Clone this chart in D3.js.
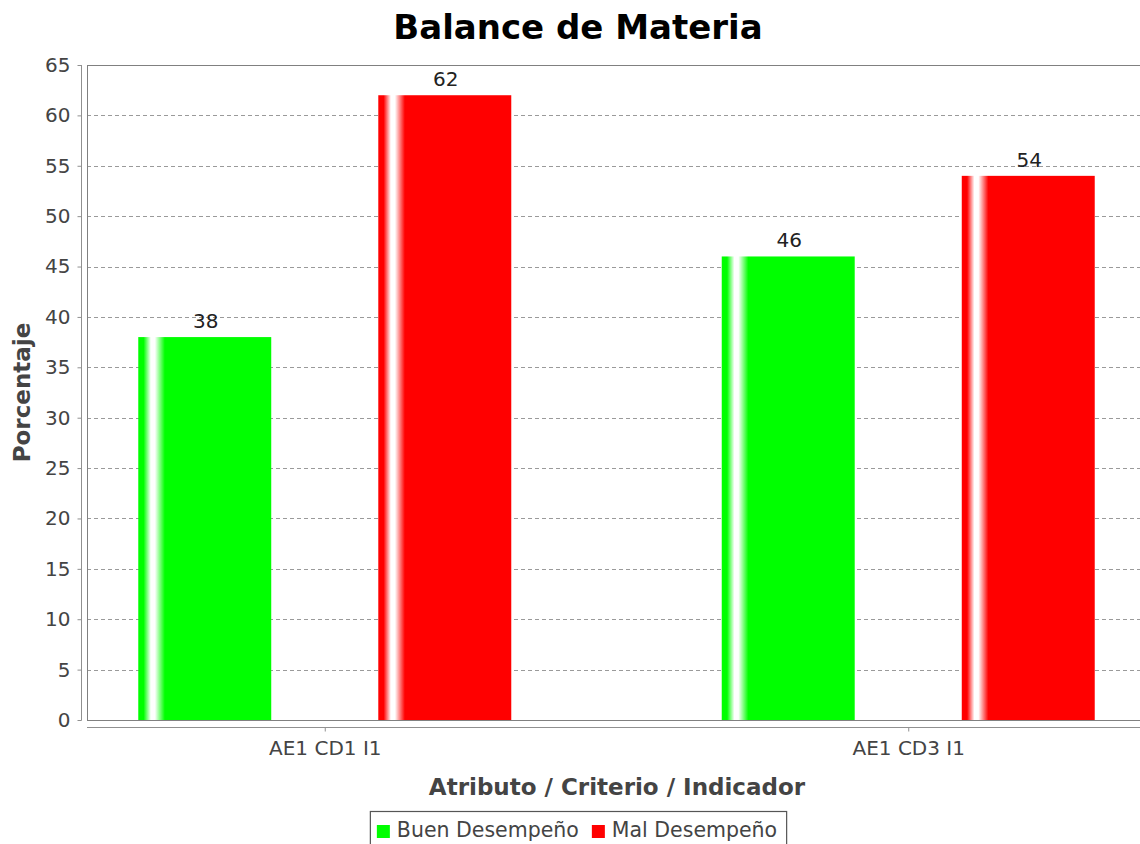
<!DOCTYPE html>
<html>
<head>
<meta charset="utf-8">
<script src="https://cdn.jsdelivr.net/npm/d3@7"></script>
<style>
  body { margin: 0; background: #fff; }
  text { font-family: "DejaVu Sans", sans-serif; }
</style>
</head>
<body>
<div id="chart"></div>
<script>
// chart data
var categories = ['AE1 CD1 I1', 'AE1 CD3 I1'];
var seriesNames = ['Buen Desempeño', 'Mal Desempeño'];
var seriesColors = ['#00ff00', '#ff0000'];
var buenValues = [38, 46];
var malValues = [62, 54];
var yTicks = [0, 5, 10, 15, 20, 25, 30, 35, 40, 45, 50, 55, 60, 65];

var width = 1140, height = 844;
var plot = { left: 87, top: 65, right: 1146, bottom: 720 }; // right edge is cropped off like the original

var svg = d3.select('#chart')
  .append('svg')
  .attr('width', width)
  .attr('height', height);

// gradient for each series (white highlight near the left edge)
var defs = svg.append('defs');
seriesColors.forEach(function(c, i) {
  var g = defs.append('linearGradient')
    .attr('id', 'grad' + i)
    .attr('x1', '0').attr('x2', '1').attr('y1', '0').attr('y2', '0');
  var stops = [[0, c], [0.04, c], [0.095, '#ffffff'], [0.125, '#ffffff'], [0.2, c], [1, c]];
  stops.forEach(function(s) {
    g.append('stop').attr('offset', s[0]).attr('stop-color', s[1]);
  });
});

var y = d3.scaleLinear().domain([0, 65]).range([plot.bottom, plot.top]);

var x0 = d3.scalePoint()
  .domain(categories)
  .range([plot.left, plot.right])
  .padding(0.4075);

var x1 = d3.scaleBand()
  .domain(seriesNames)
  .range([-186.5, 186.5])
  .paddingInner(0.446);

// gridlines
svg.append('g')
  .selectAll('line')
  .data(yTicks.filter(function(d) { return d > 0; }))
  .enter()
  .append('line')
  .attr('x1', plot.left).attr('x2', plot.right)
  .attr('y1', function(d) { return Math.round(y(d)) + 0.5; })
  .attr('y2', function(d) { return Math.round(y(d)) + 0.5; })
  .attr('stroke', '#9a9a9a')
  .attr('stroke-width', 1)
  .attr('stroke-dasharray', '4,3');

// plot outline
svg.append('rect')
  .attr('x', plot.left + 0.5).attr('y', plot.top + 0.5)
  .attr('width', plot.right - plot.left).attr('height', plot.bottom - plot.top)
  .attr('fill', 'none')
  .attr('stroke', '#808080');

// bars
var data = [];
categories.forEach(function(cat, i) {
  data.push({ cat: cat, series: seriesNames[0], value: buenValues[i], s: 0 });
  data.push({ cat: cat, series: seriesNames[1], value: malValues[i], s: 1 });
});

svg.append('g')
  .selectAll('rect')
  .data(data)
  .enter()
  .append('rect')
  .attr('x', function(d) { return x0(d.cat) + x1(d.series); })
  .attr('y', function(d) { return y(d.value); })
  .attr('width', x1.bandwidth())
  .attr('height', function(d) { return plot.bottom - y(d.value); })
  .attr('fill', function(d) { return 'url(#grad' + d.s + ')'; });

// value labels
svg.append('g')
  .selectAll('text')
  .data(data)
  .enter()
  .append('text')
  .attr('x', function(d) { return x0(d.cat) + x1(d.series) + x1.bandwidth() / 2 + 1; })
  .attr('y', function(d) { return y(d.value) - 9; })
  .attr('text-anchor', 'middle')
  .style('font-size', '20px')
  .style('fill', '#222')
  .text(function(d) { return d.value; });

// y axis (offset from plot)
var yAxis = d3.axisLeft(y).tickValues(yTicks).tickSize(4).tickPadding(7);
var yg = svg.append('g')
  .attr('transform', 'translate(81.5,0)')
  .call(yAxis);
yg.select('.domain').attr('stroke', '#909090').attr('d', 'M0,' + plot.top + 'V' + (plot.bottom + 0.5));
yg.selectAll('.tick line').attr('stroke', '#909090');
yg.selectAll('.tick text')
  .style('font-family', '"DejaVu Sans", sans-serif')
  .style('font-size', '20px')
  .style('fill', '#444');

// x axis (offset from plot)
var xAxis = d3.axisBottom(x0).tickSize(4).tickPadding(9);
var xg = svg.append('g')
  .attr('transform', 'translate(0,727.5)')
  .call(xAxis);
xg.select('.domain').attr('stroke', '#909090').attr('d', 'M' + plot.left + ',0H' + plot.right);
xg.selectAll('.tick line').attr('stroke', '#909090');
xg.selectAll('.tick text')
  .style('font-family', '"DejaVu Sans", sans-serif')
  .style('font-size', '20px')
  .style('fill', '#444');

// title
svg.append('text')
  .attr('x', 578).attr('y', 39)
  .attr('text-anchor', 'middle')
  .style('font-size', '34px')
  .style('font-weight', 'bold')
  .style('fill', '#000')
  .text('Balance de Materia');

// axis titles
svg.append('text')
  .attr('x', (plot.left + plot.right) / 2 + 0.5).attr('y', 795)
  .attr('text-anchor', 'middle')
  .style('font-size', '23px')
  .style('font-weight', 'bold')
  .style('fill', '#444')
  .text('Atributo / Criterio / Indicador');

svg.append('text')
  .attr('transform', 'translate(29.5,' + ((plot.top + plot.bottom) / 2) + ') rotate(-90)')
  .attr('text-anchor', 'middle')
  .style('font-size', '23px')
  .style('font-weight', 'bold')
  .style('fill', '#444')
  .text('Porcentaje');

// legend
var legendBox = svg.append('rect')
  .attr('y', 811.5).attr('height', 40)
  .attr('fill', '#fff')
  .attr('stroke', '#555')
  .attr('stroke-width', 1.2);

var legend = svg.append('g');
var cursor = 0;
seriesNames.forEach(function(name, i) {
  var item = legend.append('g').attr('transform', 'translate(' + cursor + ',0)');
  item.append('rect')
    .attr('x', 0).attr('y', 825)
    .attr('width', 13).attr('height', 13)
    .attr('fill', seriesColors[i]);
  var t = item.append('text')
    .attr('x', 20).attr('y', 837)
    .style('font-size', '20.5px')
    .style('fill', '#444')
    .text(name);
  cursor += 20 + t.node().getComputedTextLength() + 13;
});
var legendWidth = cursor - 13;
var legendLeft = 578 - (legendWidth + 16) / 2;
legend.attr('transform', 'translate(' + (legendLeft + 7) + ',0)');
legendBox.attr('x', legendLeft + 0.5).attr('width', legendWidth + 16);
</script>
</body>
</html>
